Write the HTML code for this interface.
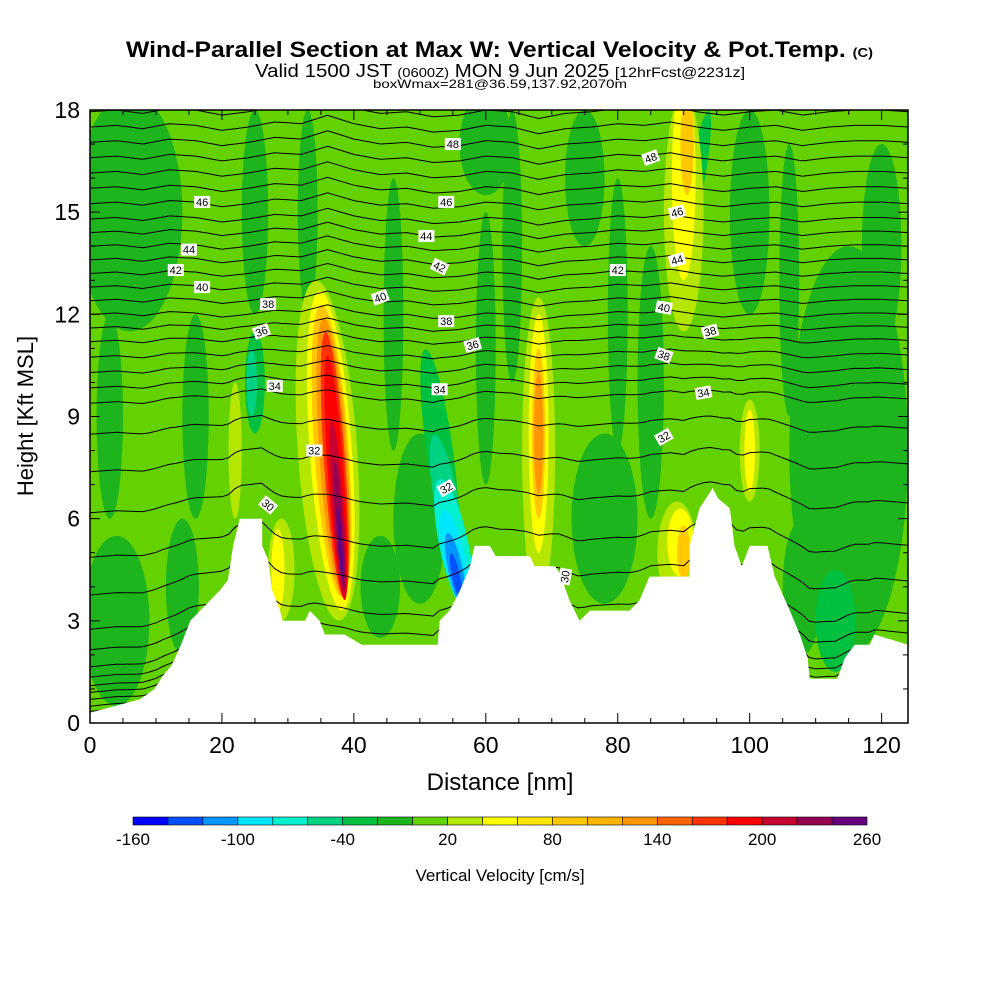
<!DOCTYPE html>
<html><head><meta charset="utf-8"><style>
body{margin:0;background:#fff;}
svg{display:block;font-family:"Liberation Sans",sans-serif;}
</style></head><body>
<svg id="chart" width="1000" height="1000" viewBox="0 0 1000 1000">
<text x="126" y="57" font-size="22" font-weight="bold" textLength="747" lengthAdjust="spacingAndGlyphs">Wind-Parallel Section at Max W: Vertical Velocity &amp; Pot.Temp. <tspan font-size="13">(C)</tspan></text>
<text x="255" y="77" font-size="18" textLength="490" lengthAdjust="spacingAndGlyphs">Valid 1500 JST <tspan font-size="13">(0600Z)</tspan> MON 9 Jun 2025 <tspan font-size="14">[12hrFcst@2231z]</tspan></text>
<text x="373" y="88" font-size="12" textLength="254" lengthAdjust="spacingAndGlyphs">boxWmax=281@36.59,137.92,2070m</text>
<defs><clipPath id="pc"><rect x="90" y="110" width="818" height="613"/></clipPath></defs>
<g id="field" clip-path="url(#pc)"></g>
<g id="contours" clip-path="url(#pc)"></g>
<g id="terrain" clip-path="url(#pc)"></g>
<g id="clabels"></g>
<rect x="90" y="110" width="818" height="613" fill="none" stroke="#000" stroke-width="1.5"/>
<g id="axes"></g>
<text x="500" y="790" text-anchor="middle" font-size="24">Distance [nm]</text>
<text transform="translate(33,416) rotate(-90)" text-anchor="middle" font-size="22">Height [Kft MSL]</text>
<g id="cbar"></g>
<text x="500" y="881" text-anchor="middle" font-size="17">Vertical Velocity [cm/s]</text>
</svg>
<script>
const binColors=["#0000ff","#0050ff","#0096ff","#00e6ff","#00f0d0","#00d284","#00c040","#1eb41e","#64d200","#b4e600","#ffff00","#ffe600","#ffc800","#ffb400","#ff9600","#ff6400","#ff3200","#ff0000","#c80032","#960050","#640080"];
const cbarLabels=["-160","-100","-40","20","80","140","200","260"];
const xTicks=[0,20,40,60,80,100,120];
const yTicks=[0,3,6,9,12,15,18];
// terrain profile (nm, kft)
const terrX=[0,7.6,9.8,11.1,12.4,13.8,15.2,16.7,18.2,19.7,20.9,21.7,22.7,26.1,26.1,27.0,27.6,28.8,29.2,32.6,33.3,34.8,35.6,38.6,41.2,52.7,53.0,54.5,56.1,57.6,58.3,60.6,61.5,66.7,67.4,70.5,71.2,72.7,74.2,75.8,81.8,83.3,84.8,90.9,90.9,92.4,94.4,95.2,97.0,97.7,98.8,100,102.7,103.8,106.1,107.6,108.8,109.1,113.3,114.4,115.9,118.2,118.9,124];
const terrH=[0.3,0.7,1.0,1.4,1.7,2.3,3.0,3.3,3.6,3.9,4.2,5.2,6.0,6.0,5.2,4.8,3.9,3.3,3.0,3.0,3.3,3.0,2.6,2.6,2.3,2.3,3.0,3.3,3.9,4.6,5.2,5.2,4.9,4.9,4.6,4.6,4.4,3.6,3.0,3.3,3.3,3.6,4.3,4.3,5.2,6.3,6.9,6.6,6.3,5.2,4.6,5.2,5.2,4.3,3.3,2.6,1.9,1.3,1.3,1.9,2.3,2.3,2.6,2.3];
// velocity features: centre (nm,kft), radii (nm,kft), tilt deg, bin
const featX=[6,4,16,14,115,100,75,60,50,44,78,108,25,85,60,120,3,46,33,64,80,106,25,53,113,92,54,24.5,55.2,55.3,55.4,55.5,36,68,90,29,89,100,22,36.5,68,90,28.5,89.5,100,36.6,68,90.5,90,36.9,68,37.1,37.3,37.6,37.8,37.9];
const featY=[15,3,9,4,8,15,16,17,6,4,6,4,15,10,11,14,9,12,15,14,12,13,10,8,3,16,6.5,10,5.2,4.8,4.5,4.3,8,8,15,4.5,5,8,8,8,8.5,16,4.5,5.3,8,8,8.5,17,5,7.8,8.5,7.6,7.2,6.3,5.8,5.3];
const featRX=[8,5,2,2.5,9,3,3,4,4,3,5,3,2,2,1.5,3,2,1.5,1.5,1.5,1.5,1.5,1.5,2,3,1.2,1.8,0.8,2.2,1.6,1.1,0.6,4.5,2.5,3,2,3,1.5,1,3.2,1.5,1.8,1,2,0.8,2.6,1,1,1,2.1,0.7,1.6,1.2,0.85,0.55,0.35];
const featRY=[3.5,2.5,3,2,6,3,2,1.5,2.5,1.5,2.5,2,3,4,4,3,3,4,3,4,4,4,1.5,3,1.5,2,2,1,2,1.5,1.1,0.7,5,4.5,3.5,1.5,1.5,1.5,2,4.7,3.5,3,1.2,1,1.2,4.3,2.5,1.5,0.8,4.1,1.8,3.9,3.6,2.6,1.9,1.1];
const featAng=[0,0,0,0,0,0,0,0,0,0,0,0,0,0,0,0,0,0,0,0,0,0,0,-8,0,10,-10,0,-12,-12,-12,-12,-4,0,0,0,0,0,0,-4,0,0,0,0,0,-4,0,0,0,-4,0,-4,-4,-4,-4,-4];
const featBin=[7,7,7,7,7,7,7,7,7,7,7,7,7,7,7,7,7,7,7,7,7,7,6,6,6,6,5,5,4,3,2,1,9,9,9,9,9,9,9,10,10,10,10,10,10,12,12,12,12,14,14,16,17,18,19,20];
// theta contours: level values and their height aloft (kft)
const thetaLevels=[20,21,22,23,24,25,26,27,28,29,30,31,32,33,34,34.75,35.5,36.25,37,37.75,38.5,39.25,40,40.75,41.5,42.25,43,43.75,44.5,45.25,46,46.75,47.5,48.25,49];
const thetaHeights=[0.4,0.55,0.75,0.95,1.15,1.4,1.7,2.2,2.8,3.8,4.9,6.2,7.4,8.5,9.4,9.85,10.3,10.75,11.2,11.6,12.0,12.4,12.8,13.2,13.6,14.0,14.4,14.8,15.25,15.7,16.15,16.6,17.05,17.5,17.95];
// contour waviness (kft offset) sampled every 4 nm
const waveOff=[0,0.05,-0.05,0.1,0.05,-0.1,0,0.15,0.1,0.35,0.1,-0.05,0,-0.15,-0.1,0.05,0,-0.2,-0.05,0,0.1,0.05,0.15,0,-0.1,0,0.05,-0.1,0,0.05,0.05,0];
// contour labels: value, position (nm,kft), rotation
const labVal=["48","48","46","46","46","44","44","44","42","42","42","40","40","40","38","38","38","38","36","36","34","34","34","32","32","32","30","30"];
const labX=[55,85,17,54,89,15,51,89,13,53,80,17,44,87,27,54,87,94,26,58,28,53,93,34,54,87,27,72];
const labY=[17.0,16.6,15.3,15.3,15.0,13.9,14.3,13.6,13.3,13.4,13.3,12.8,12.5,12.2,12.3,11.8,10.8,11.5,11.5,11.1,9.9,9.8,9.7,8.0,6.9,8.4,6.4,4.3];
const labR=[0,-20,0,0,-15,0,0,-15,0,25,0,0,-20,10,0,0,20,-15,-20,-15,0,0,-10,0,-30,-30,40,-80];

const NS="http://www.w3.org/2000/svg";
const X0=90,X1=908,Y0=723,Y1=110,XMAX=124,YMAX=18;
const sx=v=>X0+(X1-X0)*v/XMAX, sy=v=>Y0-(Y0-Y1)*v/YMAX;
function mk(tag,attrs,parent){const e=document.createElementNS(NS,tag);for(const k in attrs)e.setAttribute(k,attrs[k]);parent.appendChild(e);return e;}
function terrainAt(x){for(let i=1;i<terrX.length;i++){if(x<=terrX[i]){const a=terrX[i-1],b=terrX[i];const t=b===a?1:(x-a)/(b-a);return terrH[i-1]+(terrH[i]-terrH[i-1])*t;}}return terrH[terrH.length-1];}
function waveAt(x){const i=Math.min(waveOff.length-2,Math.floor(x/4));const t=(x-i*4)/4;return waveOff[i]+(waveOff[i+1]-waveOff[i])*t;}

// field
const field=document.getElementById('field');
let bg=mk('rect',{x:X0,y:Y1,width:X1-X0,height:Y0-Y1,fill:binColors[8]},field);


for(let i=0;i<featX.length;i++){
  const cx=sx(featX[i]),cy=sy(featY[i]);
  const e=mk('ellipse',{cx:cx,cy:cy,rx:sx(featRX[i])-X0,ry:Y0-sy(featRY[i]),fill:binColors[featBin[i]],transform:`rotate(${featAng[i]} ${cx} ${cy})`},field);
  
  
}
// contours
const cg=document.getElementById('contours');
for(let k=0;k<thetaLevels.length;k++){
  const h=thetaHeights[k];const pts=[];
  for(let x=0;x<=XMAX;x+=1){
    const t=terrainAt(x);const w=Math.max(0,1-h/12);
    const y=h+(t-0.5)*w*0.3+waveAt(x)*(0.4+h/30);
    pts.push(sx(x).toFixed(1)+','+sy(y).toFixed(1));
  }
  const p=mk('polyline',{points:pts.join(' '),fill:'none',stroke:'#000','stroke-width':1},cg);
  
  
}
// terrain
const tg=document.getElementById('terrain');
let tp=terrX.map((x,i)=>sx(x).toFixed(1)+','+sy(terrH[i]).toFixed(1));
tp.push(sx(XMAX)+','+(Y0+2));tp.push(sx(0)+','+(Y0+2));
let ter=mk('polygon',{points:tp.join(' '),fill:'#fff'},tg);


// labels
const lg=document.getElementById('clabels');
for(let i=0;i<labVal.length;i++){
  const cx=sx(labX[i]),cy=sy(labY[i]);
  const g=mk('g',{transform:`translate(${cx},${cy}) rotate(${labR[i]})`},lg);
  
  
  mk('rect',{x:-8,y:-6,width:16,height:12,fill:'#fff'},g);
  const t=mk('text',{x:0,y:4,'text-anchor':'middle','font-size':11},g);t.textContent=labVal[i];
}
// axes
const ag=document.getElementById('axes');
for(let v=0;v<=XMAX;v+=5){
  const x=sx(v),L=(v%20===0)?10:5;
  mk('line',{x1:x,y1:Y0,x2:x,y2:Y0-L,stroke:'#000'},ag);
  mk('line',{x1:x,y1:Y1,x2:x,y2:Y1+L,stroke:'#000'},ag);
}
for(let v=0;v<=YMAX;v+=1){
  const y=sy(v),L=(v%3===0)?10:5;
  mk('line',{x1:X0,y1:y,x2:X0+L,y2:y,stroke:'#000'},ag);
  mk('line',{x1:X1,y1:y,x2:X1-L,y2:y,stroke:'#000'},ag);
}
xTicks.forEach(v=>{
  const t=mk('text',{x:sx(v),y:753,'text-anchor':'middle','font-size':23},ag);t.textContent=v;
  
  
});
yTicks.forEach(v=>{
  const t=mk('text',{x:80,y:sy(v)+8,'text-anchor':'end','font-size':23},ag);t.textContent=v;
  
  
});
// colorbar
const cb=document.getElementById('cbar');
const CB0=133,CB1=867,bw=(CB1-CB0)/binColors.length;
binColors.forEach((c,i)=>{
  const r=mk('rect',{x:CB0+i*bw,y:817,width:bw,height:8,fill:c,stroke:'#000','stroke-width':0.6},cb);
  
  
});
cbarLabels.forEach((l,i)=>{
  const t=mk('text',{x:CB0+i*3*bw,y:845,'text-anchor':'middle','font-size':17},cb);t.textContent=l;
  
  
});
</script>
</body></html>
